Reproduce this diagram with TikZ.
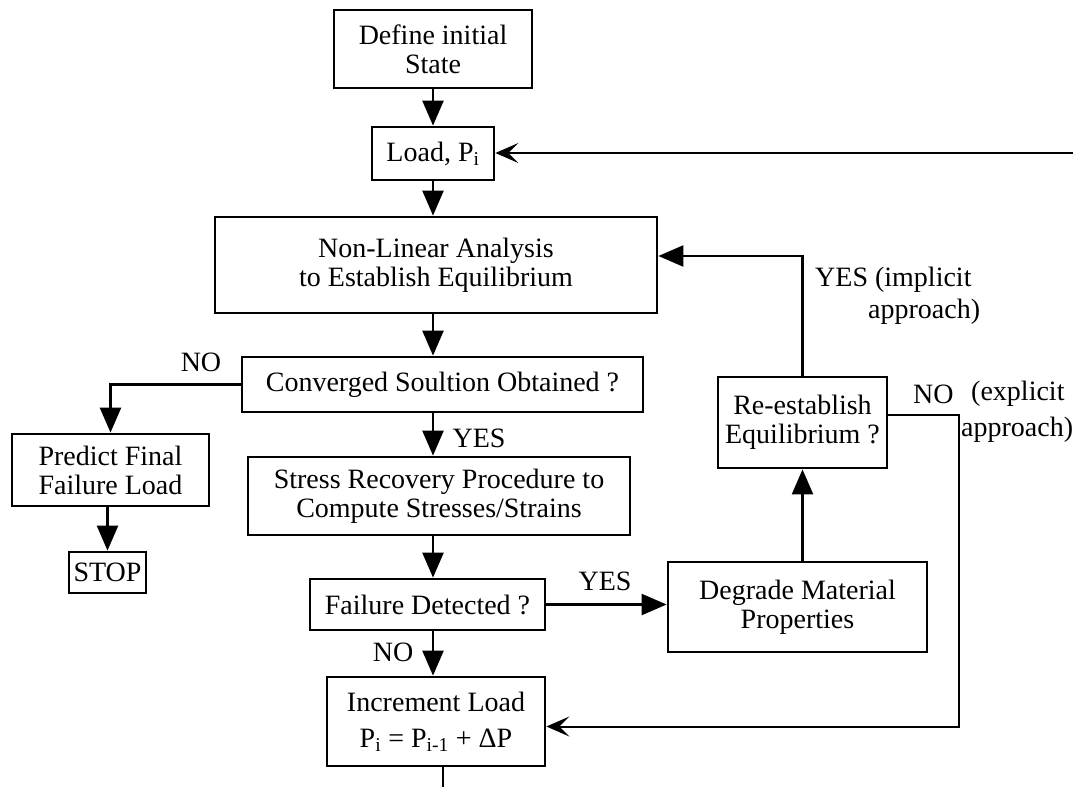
\documentclass[tikz,border=0pt]{standalone}
\usepackage{fontspec}
\setmainfont{Liberation Serif}
\usetikzlibrary{arrows.meta}

\begin{document}
\begin{tikzpicture}[x=1pt, y=-1pt,
    box/.style={draw, line width=2.8pt, align=center, inner sep=0pt,
        font=\fontsize{28}{29}\selectfont},
    lbl/.style={inner sep=0pt, font=\fontsize{28}{29}\selectfont},
    flow/.style={line width=2.4pt, -{Triangle[length=25pt,width=21pt]}},
    back/.style={line width=2pt, -{Stealth[length=23pt,width=20pt,inset=10pt]}}]
    \useasboundingbox (0,0) rectangle (1073,787);

    % main column
    \node[box, minimum width=198pt, minimum height=78pt] (define) at (433,49) {Define initial\\State};
    \node[box, minimum width=122pt, minimum height=53pt] (load) at (433,153.5) {Load, P\textsubscript{i}};
    \node[box, minimum width=442pt, minimum height=96pt] (nonlin) at (436,265) {Non-Linear Analysis\\to Establish Equilibrium};
    \node[box, minimum width=401pt, minimum height=55pt] (conv) at (442.5,384.5) {Converged Soultion Obtained ?};
    \node[box, minimum width=382pt, minimum height=78pt] (stress) at (439,496) {Stress Recovery Procedure to\\Compute Stresses/Strains};
    \node[box, minimum width=235pt, minimum height=51pt] (fail) at (427.5,604.5) {Failure Detected ?};
    \node[box, minimum width=218pt, minimum height=89pt] (incr) at (436,721.5) {Increment Load\\[7pt]P\textsubscript{i} = P\textsubscript{i-1} + ΔP};

    % left branch
    \node[box, minimum width=197pt, minimum height=72pt] (predict) at (110.5,470) {Predict Final\\Failure Load};
    \node[box, minimum width=77pt, minimum height=41pt] (stop) at (107.5,572.5) {STOP};

    % right branch
    \node[box, minimum width=259pt, minimum height=90pt] (degrade) at (797.5,607) {Degrade Material\\Properties};
    \node[box, minimum width=169pt, minimum height=91pt] (reest) at (802.5,422.5) {Re-establish\\Equilibrium ?};

    \coordinate (rightend) at (1073,153);
    \coordinate (bottomend) at (443,787);

    % connectors
    \draw[flow] (define) -- (load);
    \draw[flow] (load) -- (nonlin.north -| load);
    \draw[flow] (nonlin.south -| load) -- (conv.north -| load);
    \draw[flow] (conv.south -| load) -- (stress.north -| load);
    \draw[flow] (stress.south -| load) -- (fail.north -| load);
    \draw[flow] (fail.south -| load) -- (incr.north -| load);
    \draw[flow] (conv.west) -| (predict.north);
    \draw[flow] (predict.south -| stop) -- (stop.north);
    \draw[flow] (fail.east) -- (fail.east -| degrade.west);
    \draw[flow] (degrade.north -| reest) -- (reest.south);
    \draw[flow] (reest.north) |- ([yshift=9pt]nonlin.east);
    \draw[back] ([yshift=7.5pt]reest.east) -- ++(71,0) |- ([yshift=-5pt]incr.east);
    \draw[back] (rightend) -- (rightend -| load.east);
    \draw[line width=2.4pt] (incr.south -| bottomend) -- (bottomend);

    % labels
    \node[lbl] (noconv) at (201,362) {NO};
    \node[lbl] (yesconv) at (479,438) {YES};
    \node[lbl] (yesfail) at (605,581) {YES};
    \node[lbl] (nofail) at (393,652) {NO};
    \node[lbl, anchor=west] (yesimpl) at (815,280) {YES (implicit};
    \node[lbl, anchor=west] (yesimpl2) at (868,312) {approach)};
    \node[lbl, anchor=west] (noexpl) at (913,394) {NO};
    \node[lbl, anchor=west] (noexpl2) at (971,394) {(explicit};
    \node[lbl, anchor=west] (noexpl3) at (961,430) {approach)};
\end{tikzpicture}
\end{document}
